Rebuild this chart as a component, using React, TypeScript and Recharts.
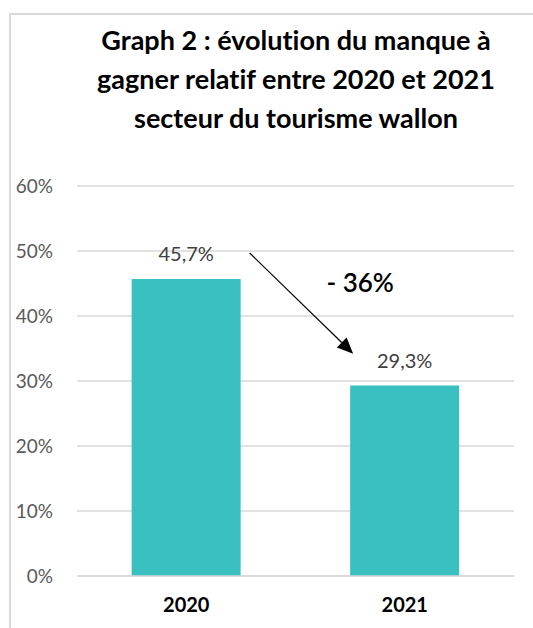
import React from "react";
import {
  BarChart,
  Bar,
  XAxis,
  YAxis,
  CartesianGrid,
  LabelList,
  ReferenceLine,
  ReferenceDot,
} from "recharts";

const years = ["2020", "2021"];
const shortfall = [0.457, 0.293];
const yTicks = [0, 0.1, 0.2, 0.3, 0.4, 0.5, 0.6];
const spanTicks = [0, 0.5, 1];
const titleLines = [
  "Graph 2 : évolution du manque à",
  "gagner relatif entre 2020 et 2021",
  "secteur du tourisme wallon",
];
const changeLabel = "- 36%";
// arrow annotation in data space (x on a 0..1 axis spanning both categories, y as share)
const arrowFrom = { x: 0.395, y: 0.497 };
const arrowTo = { x: 0.632, y: 0.342 };
const changeLabelPos = { x: 0.648, y: 0.437 };

const data = years.map((year, i) => ({ year, value: shortfall[i] }));

const FONT = "Lato, 'Open Sans', sans-serif";

const fmtPct = (v: number) => `${Math.round(v * 100)}%`;
const fmtLabel = (v: number) => `${(v * 100).toFixed(1).replace(".", ",")}%`;

const Arrow = (p: any) => {
  const { x1, y1, x2, y2 } = p;
  const dx = x2 - x1;
  const dy = y2 - y1;
  const len = Math.sqrt(dx * dx + dy * dy);
  const ux = dx / len;
  const uy = dy / len;
  const head = 16;
  const half = 7;
  const bx = x2 - ux * head;
  const by = y2 - uy * head;
  const px = -uy;
  const py = ux;
  return (
    <g>
      <line x1={x1} y1={y1} x2={bx} y2={by} stroke="#000" strokeWidth={1.2} />
      <polygon
        points={`${x2},${y2} ${bx + px * half},${by + py * half} ${bx - px * half},${by - py * half}`}
        fill="#000"
      />
    </g>
  );
};

const ChangeText = (p: any) => (
  <text
    x={p.cx}
    y={p.cy}
    textAnchor="middle"
    fontFamily={FONT}
    fontWeight={600}
    fontSize={26}
    fill="#000"
  >
    {changeLabel}
  </text>
);

export default function App() {
  return (
    <div
      style={{
        position: "absolute",
        left: 0,
        top: 0,
        width: 533,
        height: 628,
        background: "#fff",
        overflow: "hidden",
      }}
    >
      <div
        style={{
          position: "absolute",
          left: 9,
          top: 13,
          width: 540,
          height: 640,
          borderTop: "2px solid #d9d9d9",
          borderLeft: "2px solid #d9d9d9",
        }}
      />
      <div
        style={{
          position: "absolute",
          left: 57,
          top: 20,
          width: 478,
          textAlign: "center",
          fontFamily: FONT,
          fontWeight: 700,
          fontSize: 27,
          lineHeight: "39px",
          color: "#000",
          fontVariantLigatures: "none",
        }}
      >
        {titleLines.map((t) => (
          <div key={t} style={{ whiteSpace: "nowrap" }}>
            {t}
          </div>
        ))}
      </div>
      <div style={{ position: "absolute", left: 0, top: 0 }}>
        <BarChart
          width={533}
          height={628}
          data={data}
          margin={{ top: 186, right: 19, bottom: 0, left: 0 }}
          barCategoryGap="25%"
        >
          <CartesianGrid vertical={false} stroke="#d9d9d9" strokeWidth={1.5} />
          <XAxis
            xAxisId="b"
            type="number"
            domain={[0, 1]}
            ticks={spanTicks}
            height={0}
            tick={false}
            axisLine={false}
            tickLine={{ stroke: "#d9d9d9", strokeWidth: 1.5 }}
            tickSize={6}
            allowDataOverflow
          />
          <XAxis
            dataKey="year"
            height={52}
            tickLine={false}
            axisLine={{ stroke: "#d9d9d9", strokeWidth: 1.5 }}
            tickSize={6}
            tickMargin={16}
            tick={{
              fill: "#000",
              fontFamily: FONT,
              fontWeight: 700,
              fontSize: 20,
            }}
          />
          <YAxis
            width={77}
            domain={[0, 0.6]}
            ticks={yTicks}
            tickFormatter={fmtPct}
            axisLine={false}
            tickLine={false}
            tickSize={6}
            tickMargin={18}
            tick={{ fill: "#595959", fontFamily: FONT, fontSize: 19 }}
          />
          <Bar dataKey="value" fill="#3bc0c2" isAnimationActive={false}>
            <LabelList
              dataKey="value"
              position="top"
              offset={18}
              formatter={fmtLabel as any}
              fill="#404040"
              fontFamily={FONT}
              fontSize={20}
            />
          </Bar>
          <ReferenceLine
            xAxisId="b"
            segment={[arrowFrom, arrowTo]}
            shape={Arrow}
            ifOverflow="visible"
          />
          <ReferenceDot
            xAxisId="b"
            x={changeLabelPos.x}
            y={changeLabelPos.y}
            r={0}
            shape={ChangeText}
            ifOverflow="visible"
          />
        </BarChart>
      </div>
    </div>
  );
}
